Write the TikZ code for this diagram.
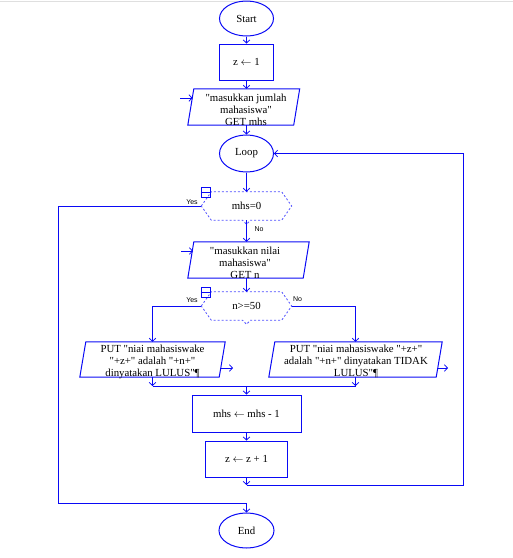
\documentclass[tikz,border=0pt]{standalone}
\usepackage{fontspec}
\setmainfont{Liberation Serif}[Ligatures=TeXOff]
\newfontfamily\labfont{Liberation Sans}
\usetikzlibrary{arrows.meta,shapes.geometric,calc}
\definecolor{fc}{RGB}{10,10,245}
\definecolor{dc}{RGB}{80,80,255}
\newcommand\ioshape[1]{\draw[plain] ($(#1.south west)+(-3,0)$) -- ($(#1.north west)+(3,0)$) -- ($(#1.north east)+(3,0)$) -- ($(#1.south east)+(-3,0)$) -- cycle;}
\newcommand\decshape[1]{%
  \draw[decline] (#1.west) -- ($(#1.north west)+(10,0)$) -- ($(#1.north east)+(-10,0)$) -- (#1.east) -- ($(#1.south east)+(-10,0)$) -- ($(#1.south)+(4,0)$) -- ($(#1.south)+(0,4)$) -- ($(#1.south)+(-4,0)$) -- ($(#1.south west)+(10,0)$) -- cycle;
  \draw[icon] ($(#1.west)+(0,-19)$) rectangle ($(#1.west)+(9,-9)$);
  \draw[icon] ($(#1.west)+(0,-14)$) -- ($(#1.west)+(9,-14)$);}
\begin{document}
\begin{tikzpicture}[x=1pt,y=-1pt,
  every node/.style={font=\fontsize{10.8}{12}\selectfont, inner sep=0pt},
  term/.style={ellipse, draw=fc, line width=1pt, minimum width=54pt, minimum height=36pt},
  proc/.style={rectangle, draw=fc, line width=1pt},
  io/.style={rectangle, minimum height=36pt},
  iotext/.style={align=center},
  dec/.style={rectangle, minimum width=90pt, minimum height=28pt},
  plain/.style={draw=fc, line width=1pt},
  conn/.style={draw=fc, line width=1pt, -{Straight Barb[length=3pt,width=6.5pt,line width=0.8pt]}},
  decline/.style={draw=dc, line width=0.8pt, dash pattern=on 2pt off 2pt},
  icon/.style={draw=fc, line width=0.9pt},
  lab/.style={font=\labfont\fontsize{7}{8}\selectfont}
]
\useasboundingbox (0,0) rectangle (513,558);
\draw[gray!25, line width=1pt] (0,1) -- (513,1);

% nodes
\node[term, minimum height=35pt] (st) at (246.5,18.5) {Start};
\node[proc, minimum width=54pt, minimum height=36pt] (z1) at (246.5,62) {z $\leftarrow$ 1};
\node[io, minimum width=105.5pt] (p1) at (243.75,107) {};
\ioshape{p1}
\node[iotext] (p1x) at (246,110) {"masukkan jumlah\\mahasiswa"\\GET mhs};
\node[term, minimum height=37pt] (lp) at (246.5,153.5) {Loop};
\node[dec] (d1) at (246.5,206) {mhs=0};
\decshape{d1}
\node[io, minimum width=115pt] (p2) at (248.5,260) {};
\ioshape{p2}
\node[iotext] (p2x) at (245,262.5) {"masukkan nilai\\mahasiswa"\\GET n};
\node[dec] (d2) at (246.5,306) {n>=50};
\decshape{d2}
\node[io, minimum width=139pt, minimum height=35pt] (q1) at (152.5,359.5) {};
\ioshape{q1}
\node[iotext] (q1x) at (152.5,361.5) {PUT "niai mahasiswake\\"+z+" adalah "+n+"\\dinyatakan LULUS"¶};
\node[io, minimum width=167pt, minimum height=35pt] (q2) at (355.5,359.5) {};
\ioshape{q2}
\node[iotext] (q2x) at (356,361.5) {PUT "niai mahasiswake "+z+"\\adalah "+n+" dinyatakan TIDAK\\LULUS"¶};
\node[proc, minimum width=109pt, minimum height=37pt] (m1) at (246.5,413.5) {mhs $\leftarrow$ mhs - 1};
\node[proc, minimum width=82pt, minimum height=36pt] (z2) at (246.5,459) {z $\leftarrow$ z + 1};
\node[term, minimum width=55pt, minimum height=35pt] (en) at (246.5,530.5) {End};

% labels
\node[lab] (y1) at (192,202) {Yes};
\node[lab] (n1) at (259,229) {No};
\node[lab] (y2) at (192,300) {Yes};
\node[lab] (n2) at (297.5,299) {No};

% coordinates
\coordinate (j1) at (246.5,386);
\coordinate (j2) at (246.5,485);
\coordinate (c1) at (463,485);
\coordinate (c2) at (58,503);
\coordinate (s1) at (180,98);   \coordinate (s1e) at (192.5,98);
\coordinate (s2) at (181,251);  \coordinate (s2e) at (193,251);
\coordinate (s3) at (220.5,368); \coordinate (s3e) at (233,368);
\coordinate (s4) at (437.5,368); \coordinate (s4e) at (448,368);

% connectors
\draw[conn] (st) -- (z1);
\draw[conn] (z1.south) -- (z1.south |- p1.north);
\draw[conn] (lp.north |- p1.south) -- (lp.north);
\draw[conn] (lp.south) -- (d1.north);
\draw[conn] (d1.south) -- (d1.south |- p2.north);
\draw[conn] (d1.south |- p2.south) -- (d2.north);
\draw[conn] (d2.west) -| (q1.north);
\draw[conn] (d2.east) -| (q2.north);
\draw[conn] (q1.south) -- (q1.south |- j1);
\draw[conn] (q2.south) -- (q2.south |- j1);
\draw[plain] (q1.south |- j1) -- (q2.south |- j1);
\draw[conn] (j1) -- (m1.north);
\draw[conn] (m1) -- (z2);
\draw[conn] (z2.south) -- (j2);
\draw[conn] (j2) -- (c1) |- (lp.east);
\draw[conn] (d1.west) -| (c2) -| (en.north);
\draw[conn] (s1) -- (s1e);
\draw[conn] (s2) -- (s2e);
\draw[conn] (s3) -- (s3e);
\draw[conn] (s4) -- (s4e);
\end{tikzpicture}
\end{document}
